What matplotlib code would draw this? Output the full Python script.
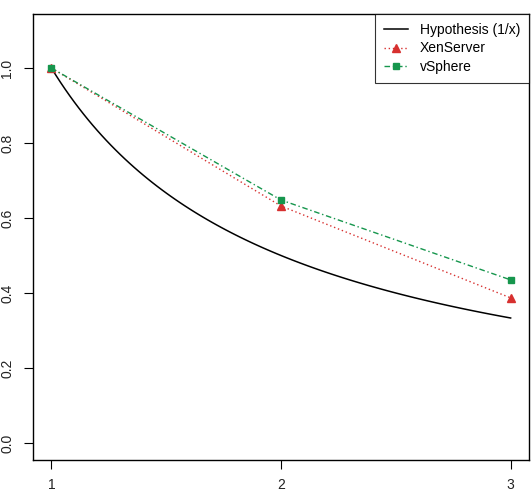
import numpy as np
import matplotlib.pyplot as plt

plt.rcParams['font.family'] = ['Liberation Sans', 'DejaVu Sans']

# Data
vms = [1, 2, 3]
xenserver = [1.0, 0.632, 0.387]
vsphere = [1.0, 0.648, 0.435]
hyp_x = np.linspace(1, 3, 101)
hyp_y = 1 / hyp_x
y_ticks = [0.0, 0.2, 0.4, 0.6, 0.8, 1.0]

fig = plt.figure(figsize=(5.31, 4.90), dpi=100)
ax = fig.add_axes([33 / 531, 1 - 459.5 / 490, 496 / 531, 445.5 / 490])

ax.plot(hyp_x, hyp_y, color='black', lw=1.1, label='Hypothesis (1/x)')
ax.plot(vms, xenserver, color='#d7302f', lw=1.0, linestyle=(0, (1, 2)),
        marker='^', markersize=6, label='XenServer')
ax.plot(vms, vsphere, color='#16964d', lw=1.0, linestyle=(0, (4, 2, 1, 2)),
        marker='s', markersize=5, label='vSphere')

ax.set_xlim(0.92, 3.08)
ax.set_ylim(-0.044, 1.144)
ax.set_xticks(vms)
ax.set_xticklabels(['1', '2', '3'])
ax.set_yticks(y_ticks)
ax.set_yticklabels(['%.1f' % v for v in y_ticks], rotation=90, va='center')
ax.tick_params(direction='out', length=6.5, width=0.8, labelsize=10, pad=7,
               labelcolor='#222222')

for s in ax.spines.values():
    s.set_linewidth(1.0)

leg = ax.legend(loc='upper right', fontsize=10, frameon=True, fancybox=False,
                edgecolor='black', borderaxespad=0, handlelength=1.75,
                handletextpad=0.8, borderpad=0.65, labelspacing=0.32)
leg.get_frame().set_linewidth(0.8)

fig.savefig('out.png', dpi=100)
